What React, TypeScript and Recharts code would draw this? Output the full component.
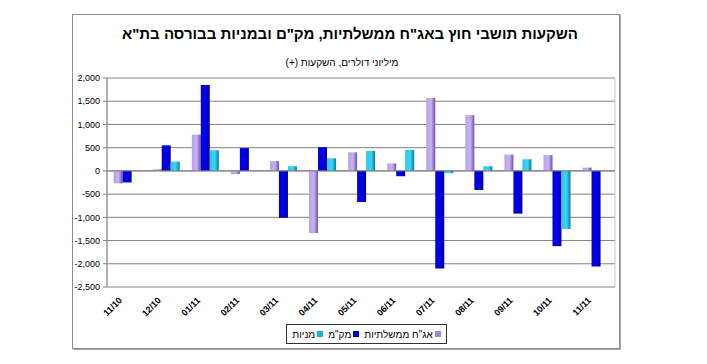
import React from 'react';
import { BarChart, Bar, XAxis, YAxis, CartesianGrid, ReferenceLine, ReferenceArea } from 'recharts';

const months = ['11/10', '12/10', '01/11', '02/11', '03/11', '04/11', '05/11', '06/11', '07/11', '08/11', '09/11', '10/11', '11/11'];
const govBonds = [-270, 35, 780, -70, 210, -1340, 400, 160, 1570, 1200, 350, 340, 70];
const makam = [-250, 550, 1850, 490, -1010, 510, -670, -115, -2100, -410, -920, -1620, -2060];
const stocks = [0, 200, 445, 0, 100, 270, 430, 450, -50, 100, 250, -1250, 0];
const yTicks = [-2500, -2000, -1500, -1000, -500, 0, 500, 1000, 1500, 2000];

const seriesNames = {
  gov: 'אג"ח ממשלתיות',
  makam: 'מק"מ',
  stocks: 'מניות',
};

const data = months.map((m, i) => ({
  month: m,
  gov: govBonds[i],
  makam: makam[i],
  stocks: stocks[i],
}));

const font = '"Liberation Sans", Arial, sans-serif';

const MonthTick = (props: any) => {
  const { x, y, payload } = props;
  return (
    <g transform={`translate(${x - 4},${y + 6}) rotate(-45)`}>
      <text x={0} y={0} textAnchor="end" fontSize={9} fontWeight="bold" fill="#000" fontFamily={font}>
        {payload.value}
      </text>
    </g>
  );
};

const legendItems = [
  { name: seriesNames.gov, color: '#9f86dc' },
  { name: seriesNames.makam, color: '#0000cc' },
  { name: seriesNames.stocks, color: '#19b4d8' },
];

export default function App() {
  return (
    <div style={{ position: 'absolute', left: 0, top: 0, width: 707, height: 364, background: '#fff', fontFamily: font }}>
      <div
        style={{
          position: 'absolute',
          left: 72,
          top: 14,
          width: 546,
          height: 333,
          border: '1px solid #8c8c8c',
          boxShadow: '1px 1px 0 #a8a8a8',
        }}
      />
      <div
        style={{
          position: 'absolute',
          left: 72,
          width: 556,
          top: 25,
          textAlign: 'center',
          fontSize: 15,
          fontWeight: 'bold',
          direction: 'rtl',
        }}
      >
        השקעות תושבי חוץ באג"ח ממשלתיות, מק"ם ובמניות בבורסה בת"א
      </div>
      <div
        style={{
          position: 'absolute',
          left: 72,
          width: 540,
          top: 57,
          textAlign: 'center',
          fontSize: 10,
          direction: 'rtl',
        }}
      >
        מיליוני דולרים, השקעות (+)
      </div>
      <div style={{ position: 'absolute', left: 0, top: 0 }}>
        <BarChart
          width={707}
          height={364}
          data={data}
          margin={{ top: 78, right: 92, bottom: 0, left: 0 }}
          barCategoryGap="17%"
          barGap={0}
        >
          <defs>
            <linearGradient id="gPurple" x1="0" y1="0" x2="1" y2="0">
              <stop offset="0%" stopColor="#b9a2ec" />
              <stop offset="55%" stopColor="#c6b2f2" />
              <stop offset="100%" stopColor="#6e52a6" />
            </linearGradient>
            <linearGradient id="gBlue" x1="0" y1="0" x2="1" y2="0">
              <stop offset="0%" stopColor="#0000d8" />
              <stop offset="55%" stopColor="#0000ee" />
              <stop offset="100%" stopColor="#000090" />
            </linearGradient>
            <linearGradient id="gCyan" x1="0" y1="0" x2="1" y2="0">
              <stop offset="0%" stopColor="#2cc8ea" />
              <stop offset="55%" stopColor="#3cd6f4" />
              <stop offset="100%" stopColor="#007e9c" />
            </linearGradient>
          </defs>
          <CartesianGrid vertical={false} stroke="#808080" />
          <ReferenceArea y1={-2500} y2={2000} fill="none" stroke="#c8c8c8" ifOverflow="visible" />
          <XAxis dataKey="month" height={77} axisLine={false} tickLine={false} tick={<MonthTick />} interval={0} />
          <YAxis
            width={107}
            domain={[-2500, 2000]}
            ticks={yTicks}
            tickSize={4}
            tickMargin={3}
            axisLine={{ stroke: '#808080' }}
            tickLine={{ stroke: '#808080' }}
            tick={{ fontSize: 9, fill: '#000', fontFamily: font }}
            tickFormatter={(v: number) => v.toLocaleString('en-US')}
          />
          <ReferenceLine y={0} stroke="#808080" />
          <Bar dataKey="gov" name={seriesNames.gov} fill="url(#gPurple)" isAnimationActive={false} />
          <Bar dataKey="makam" name={seriesNames.makam} fill="url(#gBlue)" isAnimationActive={false} />
          <Bar dataKey="stocks" name={seriesNames.stocks} fill="url(#gCyan)" isAnimationActive={false} />
        </BarChart>
      </div>
      <div
        style={{
          position: 'absolute',
          left: 286,
          top: 324,
          width: 159,
          height: 18,
          border: '1px solid #333',
          display: 'flex',
          alignItems: 'center',
          justifyContent: 'center',
          direction: 'rtl',
          fontSize: 10,
          gap: 5,
        }}
      >
        {legendItems.map((it) => (
          <span key={it.name} style={{ display: 'flex', alignItems: 'center', gap: 2 }}>
            <span style={{ width: 6, height: 6, background: it.color, display: 'inline-block' }} />
            <span>{it.name}</span>
          </span>
        ))}
      </div>
    </div>
  );
}
